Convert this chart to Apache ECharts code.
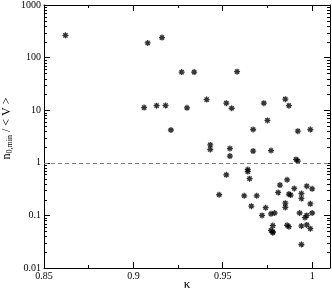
<!DOCTYPE html>
<html>
<head>
<meta charset="utf-8">
<script src="https://cdn.jsdelivr.net/npm/echarts@6/dist/echarts.min.js"></script>
<style>
  html, body { margin: 0; padding: 0; background: #fff; }
  #chart { width: 332px; height: 292px; }
</style>
</head>
<body>
<div id="chart"></div>
<script>
// kappa vs n_0,min / <V>
const kappa = [
  0.862, 0.908, 0.916, 0.906, 0.913, 0.918, 0.921, 0.927, 0.934, 0.930,
  0.941, 0.943, 0.943, 0.952, 0.955, 0.958, 0.967, 0.973, 0.975, 0.985,
  0.987, 0.992, 0.999, 0.954, 0.954, 0.967, 0.977, 0.991, 0.992, 0.964,
  0.964, 0.965, 0.952, 0.948, 0.962, 0.969, 0.966, 0.974, 0.972, 0.977,
  0.979, 0.978, 0.977, 0.978, 0.978, 0.981, 0.982, 0.986, 0.987, 0.988,
  0.985, 0.985, 0.990, 0.994, 0.994, 0.997, 1.000, 0.999, 0.993, 1.000,
  0.997, 0.996, 0.986, 0.987, 0.994, 0.997, 0.999, 0.994
];
const ratio = [
  265, 190, 240, 11.2, 12.2, 12.3, 4.2, 53, 53, 11.1,
  15.9, 2.19, 1.79, 13.6, 10.9, 54, 4.3, 13.6, 6.4, 16.2,
  12.2, 4.0, 4.3, 1.87, 1.34, 1.67, 1.71, 1.16, 1.08, 0.745,
  0.68, 0.50, 0.59, 0.247, 0.236, 0.236, 0.150, 0.140, 0.100, 0.107,
  0.111, 0.064, 0.052, 0.049, 0.047, 0.273, 0.377, 0.475, 0.254, 0.243,
  0.171, 0.142, 0.325, 0.261, 0.21, 0.36, 0.32, 0.166, 0.111, 0.111,
  0.100, 0.091, 0.065, 0.061, 0.063, 0.066, 0.056, 0.028
];
const refLevel = 1;
const yDecades = [0.01, 0.1, 1, 10, 100];
const minorSteps = [2, 3, 4, 5, 6, 7, 8, 9];

const serif = "Liberation Serif";
const xMin = 0.85, xMax = 1.01;

const points = kappa.map((k, i) => [k, ratio[i]]);
const minorTicks = [];
yDecades.forEach((d) => minorSteps.forEach((m) => minorTicks.push([xMin, d * m])));

const asterisk = "path://M5,0L5,10M0,5L10,5M1.5,1.5L8.5,8.5M1.5,8.5L8.5,1.5";

const chart = echarts.init(document.getElementById("chart"));
chart.setOption({
  animation: false,
  textStyle: { fontFamily: serif },
  grid: { left: 44, right: 2, top: 5, bottom: 24, outerBoundsMode: "none", containLabel: false },
  xAxis: [
    {
      type: "value",
      min: xMin,
      max: xMax,
      interval: 0.05,
      axisLine: { lineStyle: { color: "#000", width: 1 } },
      axisTick: { inside: true, length: 6, lineStyle: { color: "#000" } },
      minorTick: { show: true, splitNumber: 2, length: 3, lineStyle: { color: "#000" } },
      splitLine: { show: false },
      axisLabel: {
        margin: 3,
        fontFamily: serif,
        fontSize: 10,
        color: "#000",
        showMaxLabel: false,
        formatter: (v) => String(+v.toFixed(2)),
      },
      name: "κ",
      nameLocation: "middle",
      nameGap: 10,
      nameMoveOverlap: false,
      nameTextStyle: { fontFamily: serif, fontSize: 13, color: "#000" },
    },
    {
      type: "value",
      position: "top",
      min: xMin,
      max: xMax,
      interval: 0.05,
      axisLine: { lineStyle: { color: "#000", width: 1 } },
      axisTick: { inside: true, length: 6, lineStyle: { color: "#000" } },
      minorTick: { show: true, splitNumber: 2, length: 3, lineStyle: { color: "#000" } },
      splitLine: { show: false },
      axisLabel: { show: false },
    },
  ],
  yAxis: [
    {
      type: "log",
      logBase: 10,
      min: 0.01,
      max: 1000,
      axisLine: { show: true, lineStyle: { color: "#000", width: 1 } },
      axisTick: { show: true, inside: true, length: 6, lineStyle: { color: "#000" } },
      splitLine: { show: false },
      axisLabel: {
        margin: 3,
        fontFamily: serif,
        fontSize: 10,
        color: "#000",
        formatter: (v) => String(+(+v).toPrecision(3)),
      },
      name: "{a|n}{b|0,min}{a| / < V >}",
      nameLocation: "middle",
      nameGap: 30,
      nameMoveOverlap: false,
      nameTextStyle: {
        padding: [0, 0, 0, 16],
        rich: {
          a: { fontFamily: serif, fontSize: 12, color: "#000" },
          b: { fontFamily: serif, fontSize: 8, color: "#000", padding: [6, 0, 0, 0] },
        },
      },
    },
    {
      type: "log",
      logBase: 10,
      min: 0.01,
      max: 1000,
      position: "right",
      axisLine: { show: true, lineStyle: { color: "#000", width: 1 } },
      axisTick: { show: true, inside: true, length: 6, lineStyle: { color: "#000" } },
      splitLine: { show: false },
      axisLabel: { show: false },
    },
  ],
  series: [
    {
      type: "custom",
      silent: true,
      data: minorTicks,
      renderItem(params, api) {
        const cs = params.coordSys;
        const p = api.coord([api.value(0), api.value(1)]);
        const y = Math.round(p[1]) + 0.5;
        const style = { stroke: "#000", lineWidth: 1 };
        return {
          type: "group",
          children: [
            { type: "line", shape: { x1: cs.x, y1: y, x2: cs.x + 3, y2: y }, style },
            { type: "line", shape: { x1: cs.x + cs.width - 3, y1: y, x2: cs.x + cs.width, y2: y }, style },
          ],
        };
      },
    },
    {
      type: "scatter",
      data: points,
      symbol: asterisk,
      symbolSize: 6,
      itemStyle: { color: "#000", borderColor: "#000", borderWidth: 1.3 },
      markLine: {
        silent: true,
        symbol: "none",
        label: { show: false },
        lineStyle: { color: "#808080", type: [4, 3], width: 1 },
        data: [{ yAxis: refLevel }],
      },
    },
  ],
});
</script>
</body>
</html>
